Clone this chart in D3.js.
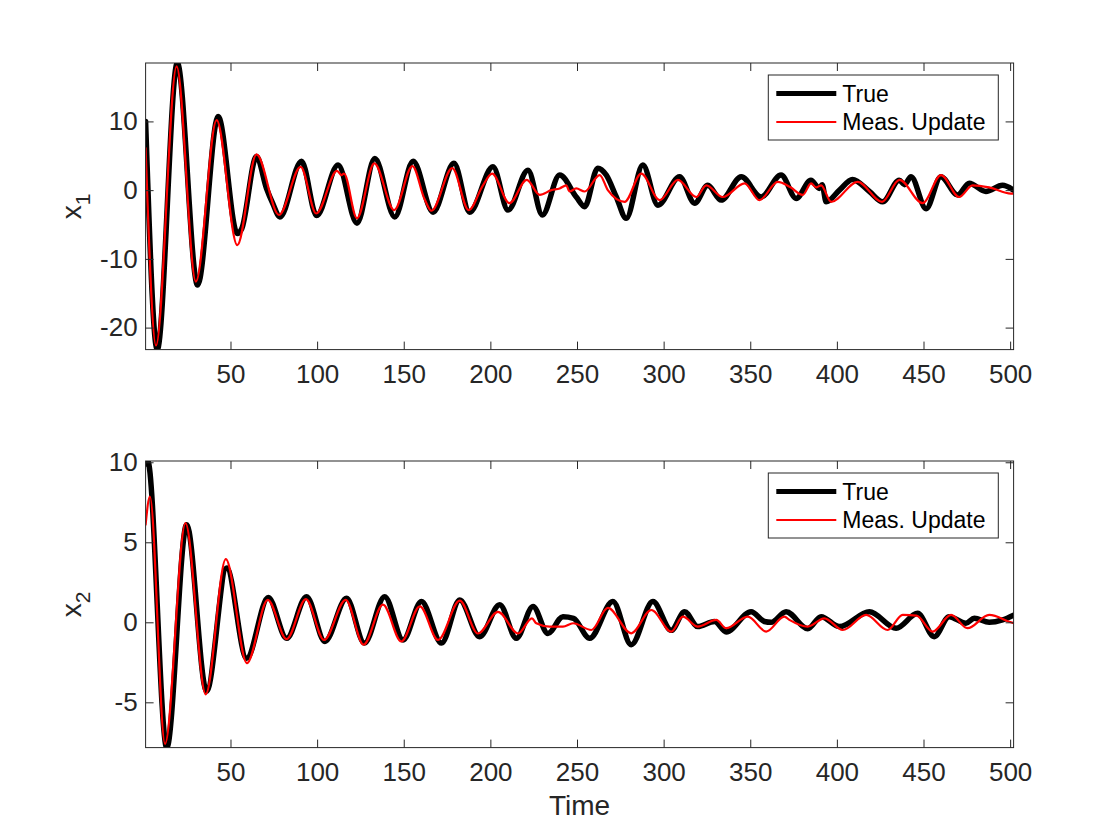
<!DOCTYPE html>
<html><head><meta charset="utf-8">
<script src="https://cdn.jsdelivr.net/npm/d3@7"></script>
<style>
body{margin:0;background:#fff}
text{font-family:"Liberation Sans",Arial,Helvetica,sans-serif}
</style>
</head><body>
<svg id="c" width="1120" height="840"></svg>
<script>
// ---- data: [time, value] pairs ----
const x1True = [[1,10],[7.7,-23.2],[19.3,18.5],[31,-13.8],[42.9,10.7],[53.9,-6.3],[56.5,-5.6],[65,4.9],[70.8,0.25],[74.5,-2.0],[78.5,-3.9],[91,4.2],[99.7,-3.7],[112.1,3.65],[123,-4.8],[133.3,4.6],[144.8,-3.9],[155.4,4.2],[166.9,-3.2],[179,3.9],[188,-3.2],[201.5,3.4],[210.2,-2.9],[221.7,2.9],[230,-3.6],[240,2.2],[249.6,-1.0],[254.4,-2.4],[262,3.2],[266.9,2.2],[272.7,-1.0],[278.4,-4.1],[288,3.65],[296.7,-2.2],[309.2,1.95],[317.9,-1.9],[325.5,0.7],[333.2,-1.45],[344.8,1.95],[356.3,-1.0],[367.8,2.2],[376.5,-1.2],[385,1.45],[389.9,0.25],[391.5,0.8],[393.8,-1.7],[401.5,0],[409,1.55],[418.8,-0.2],[426.4,-1.7],[436,1.45],[439,0.8],[442.8,1.95],[451.5,-2.7],[460,1.95],[469.7,-0.7],[476.4,1.0],[486,-0.2],[495.6,0.7],[502,0.0]];
const x1Meas = [[1,6.1],[7,-22.6],[18.9,18.0],[30,-13.3],[42,10.2],[53.9,-8.0],[65,5.2],[78,-3.6],[90.5,3.4],[99.5,-3.4],[111.5,2.8],[114,2.2],[115.5,2.4],[123,-4.1],[133,3.9],[144.5,-2.9],[155,3.5],[162,-1.3],[166,-3.0],[178,3.2],[187.5,-2.9],[195.7,0.7],[201,2.4],[211,-1.9],[221,1.5],[228.5,-0.7],[235.2,0.0],[240,0.25],[243.8,0.7],[245.7,-0.2],[249.6,0.25],[254.4,-0.2],[263.1,2.2],[267.8,0.0],[277.5,-1.7],[287.1,2.4],[297.7,-1.45],[308.2,1.5],[318.8,-1.0],[324.6,0.7],[334.2,-1.0],[346.7,1.0],[355.3,-1.45],[365.9,1.2],[373,0.45],[380.3,-0.7],[385.1,1.0],[388,0.4],[390.9,0.7],[396.7,-1.7],[412,1.2],[426.1,-1.7],[436.1,1.5],[449.5,-1.9],[460.1,2.2],[470.6,-1.0],[478.3,0.7],[487.9,0.4],[500.5,-0.5],[502,-0.5]];
const x2True = [[1,9.9],[2.2,10.08],[13.2,-7.83],[24.7,6.1],[36.2,-4.3],[47.8,3.4],[59.3,-2.25],[71.8,1.55],[82.4,-1.0],[93.9,1.6],[104.5,-1.2],[117,1.5],[127.3,-1.3],[139,1.6],[149.6,-1.1],[160.2,1.3],[171.8,-1.3],[182.3,1.4],[193.8,-0.9],[205.4,1.1],[215,-1.0],[224.6,0.98],[233.2,-0.7],[241.9,0.35],[248,0.25],[257.3,-1.0],[270.7,1.3],[281.3,-1.4],[293.8,1.3],[304.4,-0.5],[312.1,0.66],[319.7,-0.27],[329.4,0.05],[336.1,-0.6],[350.5,0.66],[358.2,0.05],[362,0.0],[370.7,0.66],[383.2,-0.4],[390.9,0.35],[401.5,-0.27],[418.8,0.66],[434.2,-0.37],[446.6,0.56],[456.2,-0.9],[464.8,0.35],[474.5,-0.06],[479.3,0.25],[487.9,0.0],[495.6,0.15],[502,0.45]];
const x2Meas = [[1,6.1],[3.5,7.85],[12.2,-7.6],[24,6.2],[35.7,-4.5],[47.3,3.95],[59.5,-2.55],[71.5,1.4],[82.4,-1.05],[93.5,1.45],[104,-1.1],[116.5,1.4],[126.8,-1.4],[138,1.1],[148.6,-1.2],[159.3,1.0],[169.8,-1.1],[182.3,1.35],[192.8,-0.7],[204.4,0.65],[216,-0.7],[224,0.25],[226.5,-0.06],[234.2,-0.27],[241.9,-0.27],[247.7,-0.06],[258.3,-0.48],[267.8,0.9],[281.3,-0.69],[292.9,0.77],[304.4,-0.58],[311.1,0.35],[319.7,-0.27],[330.4,0.15],[336.1,-0.37],[348.6,0.35],[359.2,-0.58],[369.7,0.35],[372.6,0.15],[383.2,-0.27],[392.8,0.25],[403.4,-0.48],[416.9,0.46],[429.3,-0.48],[438,0.46],[446,0.42],[455.3,-0.58],[465.9,0.46],[475.4,-0.37],[487.9,0.46],[500.5,0.0],[502,-0.05]];

const timeDomain = [1, 502];
const xTicks = [50,100,150,200,250,300,350,400,450,500];
const y1Domain = [-23.2, 18.5];
const y1Ticks = [-20,-10,0,10];
const y2Domain = [-7.83, 10.08];
const y2Ticks = [-5,0,5,10];
const seriesNames = ["True","Meas. Update"];

// ---- layout ----
const svg = d3.select("#c");
const L = 145.6, R = 1013.6;
const panels = [
  {top:63, bottom:349.6, yDom:y1Domain, yTicks:y1Ticks, label:"1", data:[x1True,x1Meas]},
  {top:461, bottom:747.6, yDom:y2Domain, yTicks:y2Ticks, label:"2", data:[x2True,x2Meas]}
];
const axisColor = "#262626";
const tickFont = 26;
const styles = [{stroke:"#000", w:5.5, lw:5},{stroke:"#ff0000", w:2.2, lw:2}];

panels.forEach((p,i)=>{
  const x = d3.scaleLinear().domain(timeDomain).range([L,R]);
  const y = d3.scaleLinear().domain(p.yDom).range([p.bottom,p.top]);
  const g = svg.append("g");
  const clipId = "clip"+i;
  svg.append("clipPath").attr("id",clipId).append("rect")
    .attr("x",L).attr("y",p.top).attr("width",R-L).attr("height",p.bottom-p.top);

  const line = d3.line().x(d=>x(d[0])).y(d=>y(d[1])).curve(d3.curveMonotoneX);
  const lg = g.append("g").attr("clip-path",`url(#${clipId})`);
  p.data.forEach((d,k)=>{
    lg.append("path").datum(d).attr("d",line)
      .attr("fill","none").attr("stroke",styles[k].stroke)
      .attr("stroke-width",styles[k].w).attr("stroke-linejoin","round").attr("stroke-linecap","round");
  });

  const fmt = d=>String(d);
  const styleAxis = (sel, labels)=>{
    sel.select(".domain").remove();
    sel.selectAll(".tick line").attr("stroke",axisColor).attr("stroke-width",1);
    sel.selectAll(".tick text").attr("fill",axisColor).style("font-size",tickFont+"px");
    if(!labels) sel.selectAll(".tick text").remove();
  };
  g.append("g").attr("transform",`translate(0,${p.bottom})`)
    .call(d3.axisBottom(x).tickValues(xTicks).tickFormat(fmt).tickSize(-8).tickPadding(15))
    .call(s=>styleAxis(s,true));
  g.append("g").attr("transform",`translate(0,${p.top})`)
    .call(d3.axisTop(x).tickValues(xTicks).tickSize(-8))
    .call(s=>styleAxis(s,false));
  g.append("g").attr("transform",`translate(${L},0)`)
    .call(d3.axisLeft(y).tickValues(p.yTicks).tickFormat(fmt).tickSize(-8).tickPadding(8))
    .call(s=>styleAxis(s,true));
  g.append("g").attr("transform",`translate(${R},0)`)
    .call(d3.axisRight(y).tickValues(p.yTicks).tickSize(-8))
    .call(s=>styleAxis(s,false));
  g.selectAll(".tick text").attr("font-family",null);
  g.append("rect").attr("x",L).attr("y",p.top).attr("width",R-L).attr("height",p.bottom-p.top)
    .attr("fill","none").attr("stroke",axisColor).attr("stroke-width",1);

  // y label x_n
  const cy = (p.top+p.bottom)/2;
  const t = g.append("text").attr("transform",`translate(81,${cy}) rotate(-90)`)
    .attr("text-anchor","middle").attr("fill",axisColor).style("font-size","28px");
  t.append("tspan").text("x");
  t.append("tspan").attr("dy",9).style("font-size","21px").text(p.label);

  // legend
  const lx = 768.3, ly = p.top+12, lw = 230, lh = 65;
  const leg = g.append("g");
  leg.append("rect").attr("x",lx).attr("y",ly).attr("width",lw).attr("height",lh)
    .attr("fill","#fff").attr("stroke",axisColor).attr("stroke-width",1);
  seriesNames.forEach((n,k)=>{
    const ry = ly + 18.5 + k*28.5;
    leg.append("line").attr("x1",lx+8).attr("x2",lx+68).attr("y1",ry).attr("y2",ry)
      .attr("stroke",styles[k].stroke).attr("stroke-width",styles[k].lw);
    leg.append("text").attr("x",lx+74).attr("y",ry+8).attr("fill","#000")
      .style("font-size","23px").text(n);
  });
});

svg.append("text").attr("x",(L+R)/2).attr("y",815).attr("text-anchor","middle")
  .attr("fill",axisColor).style("font-size","28px").text("Time");
</script>
</body></html>
